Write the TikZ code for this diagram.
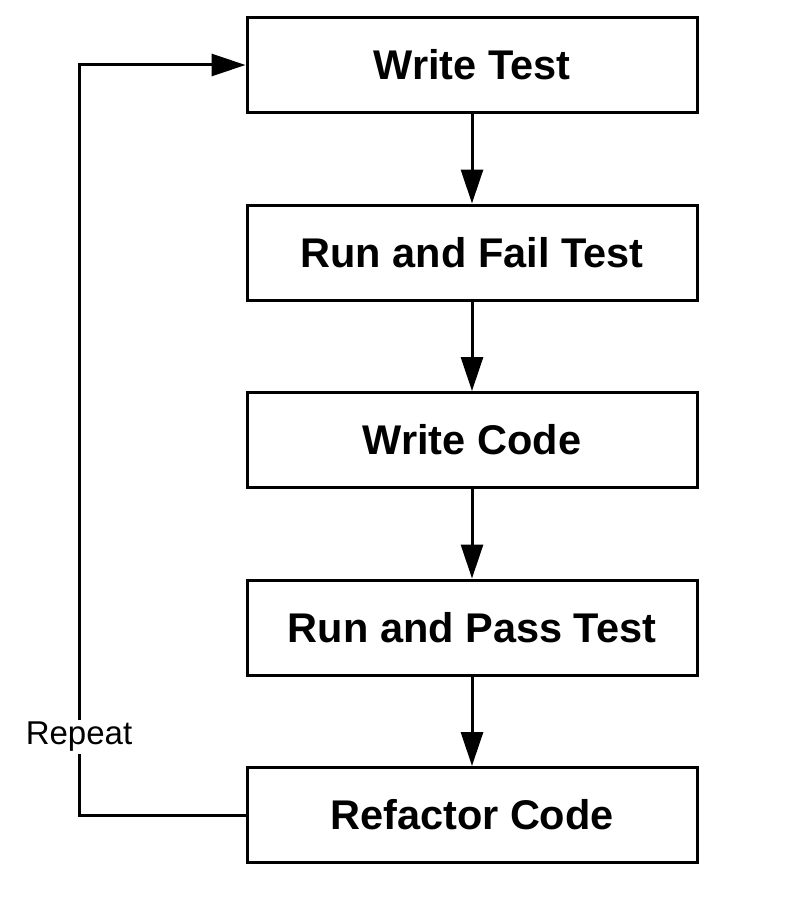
\documentclass[tikz,border=0pt]{standalone}
\usepackage{fontspec}
\setmainfont{Liberation Sans}
\usetikzlibrary{positioning,arrows.meta}

\tikzset{
  stepbox/.style={draw, line width=3pt, minimum width=450pt, minimum height=95pt,
    font=\fontsize{41.5}{48}\selectfont\bfseries},
  flow/.style={line width=3pt, -{Triangle[length=34pt,width=22pt]}}
}

\begin{document}
\begin{tikzpicture}[x=1pt, y=-1pt, node distance=89.5pt]
      \useasboundingbox (0,0) rectangle (787,907);

      % Draw the steps
      \node[stepbox] (writetest) at (472,65) {Write Test};
      \node[stepbox, below=of writetest] (failtest) {Run and Fail Test};
      \node[stepbox, below=of failtest] (writecode) {Write Code};
      \node[stepbox, below=of writecode] (passtest) {Run and Pass Test};
      \node[stepbox, below=of passtest] (refactor) {Refactor Code};

      % Connect them
      \draw[flow] (writetest) -- (failtest);
      \draw[flow] (failtest) -- (writecode);
      \draw[flow] (writecode) -- (passtest);
      \draw[flow] (passtest) -- (refactor);

      % Loop back to the start
      \coordinate (loop) at (79,0);
      \draw[flow] (refactor.west) -- (refactor.west -| loop) |- (writetest.west);
      \node[fill=white, inner sep=2pt, font=\fontsize{33}{40}\selectfont] (repeat) at (79,737) {Repeat};
    \end{tikzpicture}
\end{document}
